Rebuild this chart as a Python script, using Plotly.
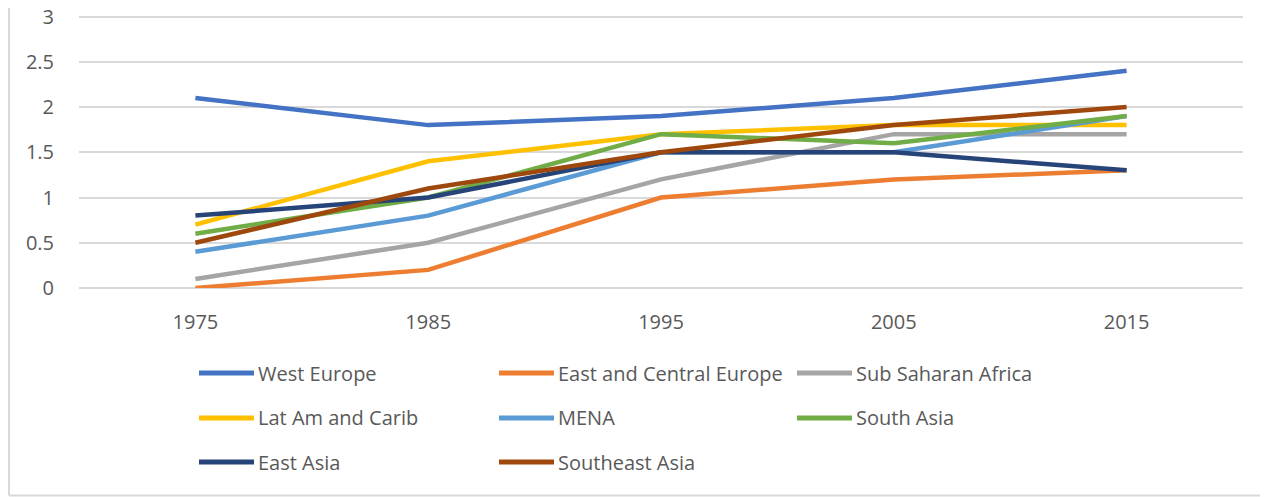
import plotly.graph_objects as go

# ---- data ----
years = ["1975", "1985", "1995", "2005", "2015"]
west_europe = [2.1, 1.8, 1.9, 2.1, 2.4]
east_central_europe = [0.0, 0.2, 1.0, 1.2, 1.3]
sub_saharan_africa = [0.1, 0.5, 1.2, 1.7, 1.7]
lat_am_carib = [0.7, 1.4, 1.7, 1.8, 1.8]
mena = [0.4, 0.8, 1.5, 1.5, 1.9]
south_asia = [0.6, 1.0, 1.7, 1.6, 1.9]
east_asia = [0.8, 1.0, 1.5, 1.5, 1.3]
southeast_asia = [0.5, 1.1, 1.5, 1.8, 2.0]

series_names = ["West Europe", "East and Central Europe", "Sub Saharan Africa",
                "Lat Am and Carib", "MENA", "South Asia", "East Asia", "Southeast Asia"]
series_values = [west_europe, east_central_europe, sub_saharan_africa,
                 lat_am_carib, mena, south_asia, east_asia, southeast_asia]
colors = ["#4472C4", "#ED7D31", "#A5A5A5", "#FFC000",
          "#5B9BD5", "#70AD47", "#264478", "#9E480E"]
y_ticks = [0, 0.5, 1, 1.5, 2, 2.5, 3]

# ---- layout geometry (pixels) ----
OFF = 8  # page body margin
W, H = 1268 - OFF, 497 - OFF
L, R, T, B = 79 - OFF, 25, 12 - OFF, 209
PW, PH = W - L - R, H - T - B
FONT = "Open Sans"
FS = 20
TXT = "#595959"
GRID = "#d9d9d9"


def px(x):
    # x in screen pixels -> paper coordinate
    return (x - OFF - L) / PW


def py(y):
    # y in screen pixels -> paper coordinate
    return (H - B - (y - OFF)) / PH


fig = go.Figure()
for name, vals, col in zip(series_names, series_values, colors):
    fig.add_trace(go.Scatter(x=years, y=vals, mode="lines", name=name,
                             line=dict(color=col, width=4.5), showlegend=False))

shapes = []
annotations = []
# custom legend (3 columns)
col_x = [199, 499, 797]
row_y = [373, 418, 462]
for i, (name, col) in enumerate(zip(series_names, colors)):
    cx = col_x[i % 3]
    ry = row_y[i // 3]
    shapes.append(dict(type="line", xref="paper", yref="paper",
                       x0=px(cx), x1=px(cx + 55), y0=py(ry), y1=py(ry),
                       line=dict(color=col, width=5)))
    annotations.append(dict(xref="paper", yref="paper", x=px(cx + 57), y=py(ry),
                            xanchor="left", yanchor="middle", showarrow=False,
                            text=name, font=dict(family=FONT, size=FS, color=TXT)))

# chart border (left and bottom visible)
shapes.append(dict(type="line", xref="paper", yref="paper",
                   x0=px(9), x1=px(9), y0=py(0), y1=py(495.5),
                   line=dict(color=GRID, width=2)))
shapes.append(dict(type="line", xref="paper", yref="paper",
                   x0=px(9), x1=px(1268), y0=py(495.5), y1=py(495.5),
                   line=dict(color=GRID, width=2)))

fig.update_layout(
    width=W, height=H,
    margin=dict(l=L, r=R, t=T, b=B, autoexpand=False),
    paper_bgcolor="white", plot_bgcolor="white",
    font=dict(family=FONT, size=FS, color=TXT),
    showlegend=False,
    shapes=shapes,
    annotations=annotations,
    xaxis=dict(type="category", range=[-0.5, 4.5], showgrid=False,
               showline=False, zeroline=False, automargin=False,
               ticks="outside", ticklen=16, tickcolor="rgba(0,0,0,0)",
               tickfont=dict(family=FONT, size=FS, color=TXT)),
    yaxis=dict(range=[0, 3.05], tickvals=y_ticks,
               ticktext=[f"{v:g}" for v in y_ticks],
               showgrid=True, gridcolor=GRID, gridwidth=1.5,
               zeroline=True, zerolinecolor=GRID, zerolinewidth=1.5,
               showline=False, automargin=False, ticklabeloverflow="allow",
               ticks="outside", ticklen=20, tickcolor="rgba(0,0,0,0)",
               tickfont=dict(family=FONT, size=FS, color=TXT)),
)

fig.write_html("out.html")
